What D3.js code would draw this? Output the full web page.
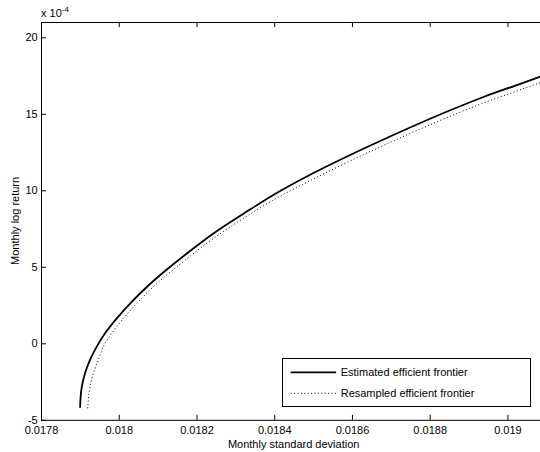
<!DOCTYPE html>
<html>
<head>
<meta charset="utf-8">
<script src="https://cdn.jsdelivr.net/npm/d3@7"></script>
<style>
body { margin: 0; background: #fff; }
svg { display: block; font-family: "Liberation Sans", Arial, Helvetica, sans-serif; }
</style>
</head>
<body>
<div id="chart"></div>
<script>
// values (return in units of 1e-4)
var estSigma = [0.0179004, 0.0179048, 0.0179133, 0.0179261, 0.0179434, 0.0179647, 0.0179949, 0.0180291,
    0.0180721, 0.0181236, 0.0181835, 0.0182435, 0.0183295, 0.0184152, 0.0185009, 0.0185954,
    0.0186811, 0.0187671, 0.0188528, 0.0189385, 0.0190244, 0.0191];
var estReturn = [-4.21, -2.86, -1.96, -1.09, -0.22, 0.65, 1.63, 2.60,
    3.68, 4.82, 6.03, 7.18, 8.61, 9.95, 11.13, 12.31,
    13.32, 14.30, 15.23, 16.10, 16.88, 17.57];

var resSigma = [0.0179202, 0.0179261, 0.0179346, 0.0179475, 0.0179604, 0.0179820, 0.0180118, 0.0180463,
    0.0180891, 0.0181405, 0.0181835, 0.0182435, 0.0183295, 0.0184152, 0.0185009, 0.0185954,
    0.0186811, 0.0187671, 0.0188528, 0.0189385, 0.0190244, 0.0191];
var resReturn = [-4.25, -2.84, -1.96, -1.09, -0.22, 0.65, 1.63, 2.61,
    3.70, 4.82, 5.69, 6.85, 8.31, 9.61, 10.74, 11.92,
    12.93, 13.91, 14.84, 15.71, 16.49, 17.18];

var xTicks = [0.0178, 0.018, 0.0182, 0.0184, 0.0186, 0.0188, 0.019];
var xTickLabels = ["0.0178", "0.018", "0.0182", "0.0184", "0.0186", "0.0188", "0.019"];
var yTicks = [-5, 0, 5, 10, 15, 20];
var yTickLabels = ["-5", "0", "5", "10", "15", "20"];
var seriesNames = ["Estimated efficient frontier", "Resampled efficient frontier"];

var width = 540, height = 452;
var padL = 41, padT = 22, padR = 546.3, padB = 419.8;

var x = d3.scaleLinear().domain([0.0178, 0.0191]).range([padL, padR]);
var y = d3.scaleLinear().domain([-5, 21]).range([padB, padT]);

var svg = d3.select("#chart").append("svg")
    .attr("width", width)
    .attr("height", height);

svg.append("defs").append("clipPath").attr("id", "plotclip")
    .append("rect")
    .attr("x", padL).attr("y", padT)
    .attr("width", padR - padL).attr("height", padB - padT);

function toPoints(xs, ys) {
    var pts = [];
    for (var i = 0; i < xs.length; i++) pts.push([xs[i], ys[i]]);
    return pts;
}

var line = d3.line()
    .x(function(d) { return x(d[0]); })
    .y(function(d) { return y(d[1]); })
    .curve(d3.curveMonotoneY);

var plot = svg.append("g").attr("clip-path", "url(#plotclip)");

plot.append("path")
    .datum(toPoints(resSigma, resReturn))
    .attr("d", line)
    .attr("fill", "none")
    .attr("stroke", "#000")
    .attr("stroke-width", 1)
    .attr("stroke-dasharray", "1,2.4");

plot.append("path")
    .datum(toPoints(estSigma, estReturn))
    .attr("d", line)
    .attr("fill", "none")
    .attr("stroke", "#000")
    .attr("stroke-width", 1.8);

// axes, ticks pointing inward like matlab
var xAxis = d3.axisBottom(x).tickValues(xTicks)
    .tickFormat(function(d, i) { return xTickLabels[i]; })
    .tickSizeInner(-5).tickSizeOuter(0).tickPadding(6);
var xTop = d3.axisTop(x).tickValues(xTicks).tickFormat("")
    .tickSizeInner(-5).tickSizeOuter(0);
var yAxis = d3.axisLeft(y).tickValues(yTicks)
    .tickFormat(function(d, i) { return yTickLabels[i]; })
    .tickSizeInner(-5).tickSizeOuter(0).tickPadding(3.3);

function style(g) {
    g.select(".domain").attr("stroke", "#000").attr("stroke-width", 1);
    g.selectAll(".tick line").attr("stroke", "#000");
    g.selectAll(".tick text").attr("fill", "#000").style("font-size", "11px")
        .style("font-family", "'Liberation Sans', Arial, Helvetica, sans-serif");
}

svg.append("g").attr("transform", "translate(0," + padB + ")").call(xAxis).call(style);
svg.append("g").attr("transform", "translate(0," + padT + ")").call(xTop).call(style);
svg.append("g").attr("transform", "translate(" + padL + ",0)").call(yAxis).call(style);

// exponent label
var expo = svg.append("text")
    .attr("x", padL).attr("y", 16.7)
    .style("font-size", "11px")
    .text("x 10");
expo.append("tspan").attr("dy", -5).style("font-size", "8px").text("-4");

svg.append("text")
    .attr("x", (padL + padR) / 2).attr("y", 448)
    .attr("text-anchor", "middle")
    .style("font-size", "11px")
    .text("Monthly standard deviation");

svg.append("text")
    .attr("transform", "translate(18.5," + ((padT + padB) / 2) + ") rotate(-90)")
    .attr("text-anchor", "middle")
    .style("font-size", "11px")
    .text("Monthly log return");

// legend
var legend = svg.append("g");
legend.append("rect")
    .attr("x", 282.5).attr("y", 358.5)
    .attr("width", 248).attr("height", 48)
    .attr("fill", "#fff").attr("stroke", "#000").attr("stroke-width", 1);

var legRows = [372.3, 393.3];
for (var i = 0; i < seriesNames.length; i++) {
    legend.append("line")
        .attr("x1", 290.7).attr("x2", 336)
        .attr("y1", legRows[i]).attr("y2", legRows[i])
        .attr("stroke", "#000")
        .attr("stroke-width", i == 0 ? 1.8 : 1)
        .attr("stroke-dasharray", i == 0 ? null : "1,2.4");
    legend.append("text")
        .attr("x", 340.7).attr("y", legRows[i] + 4)
        .style("font-size", "11px")
        .text(seriesNames[i]);
}
</script>
</body>
</html>
